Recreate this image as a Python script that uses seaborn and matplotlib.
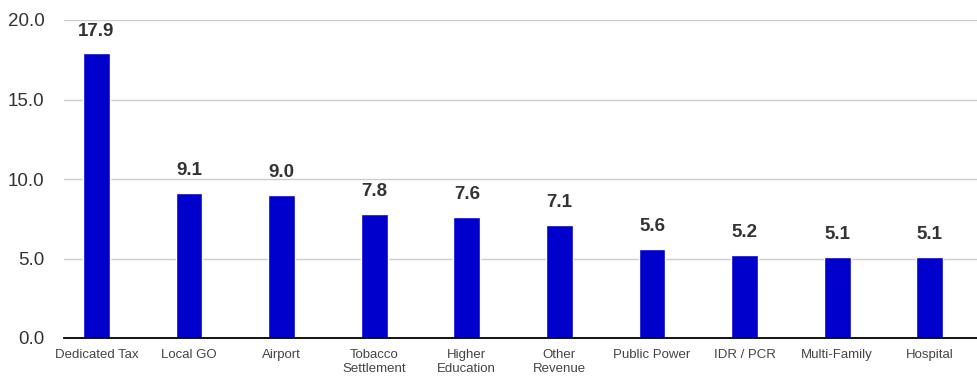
import numpy as np
import pandas as pd
import matplotlib
matplotlib.use('Agg')
import matplotlib.pyplot as plt
import seaborn as sns

sectors = ['Dedicated Tax', 'Local GO', 'Airport', 'Tobacco\nSettlement', 'Higher\nEducation',
           'Other\nRevenue', 'Public Power', 'IDR / PCR', 'Multi-Family', 'Hospital']
values = [17.9, 9.1, 9.0, 7.8, 7.6, 7.1, 5.6, 5.2, 5.1, 5.1]

df = pd.DataFrame({'sector': sectors, 'value': values})

sns.set_style('white')
plt.rcParams['font.family'] = ['Liberation Sans', 'DejaVu Sans']

fig = plt.figure(figsize=(9.77, 3.81), dpi=100)
ax = fig.add_axes([64 / 977, 43 / 381, 1 - 64 / 977, 318 / 381])

sns.barplot(x='sector', y='value', data=df, color='#0000CC', saturation=1,
            width=0.29, ax=ax, zorder=3)

ax.set_ylim(0, 20)
ax.set_xlim(-0.35, 9.51)
ax.set_yticks([0, 5, 10, 15, 20])
ax.set_yticklabels([f'{v:.1f}' for v in [0, 5, 10, 15, 20]], fontsize=13.5, color='#333333')
ax.yaxis.grid(True, color='#cccccc', linewidth=1, zorder=0)
ax.tick_params(axis='x', labelsize=9.5, colors='#444444', length=0, pad=8)
ax.tick_params(axis='y', length=0, pad=14)
for lbl in ax.get_yticklabels():
    lbl.set_color('#333333')
ax.set_xlabel('')
ax.set_ylabel('')
for s in ['top', 'right', 'left']:
    ax.spines[s].set_visible(False)
ax.spines['bottom'].set_color('black')
ax.spines['bottom'].set_linewidth(1.3)
ax.spines['bottom'].set_zorder(4)

for i, v in enumerate(values):
    ax.annotate(f'{v:.1f}', (i, v), xytext=(0, 10), textcoords='offset points',
                ha='center', va='bottom', fontsize=13.5, fontweight='bold', color='#333333')

fig.savefig('out.png', dpi=100)
